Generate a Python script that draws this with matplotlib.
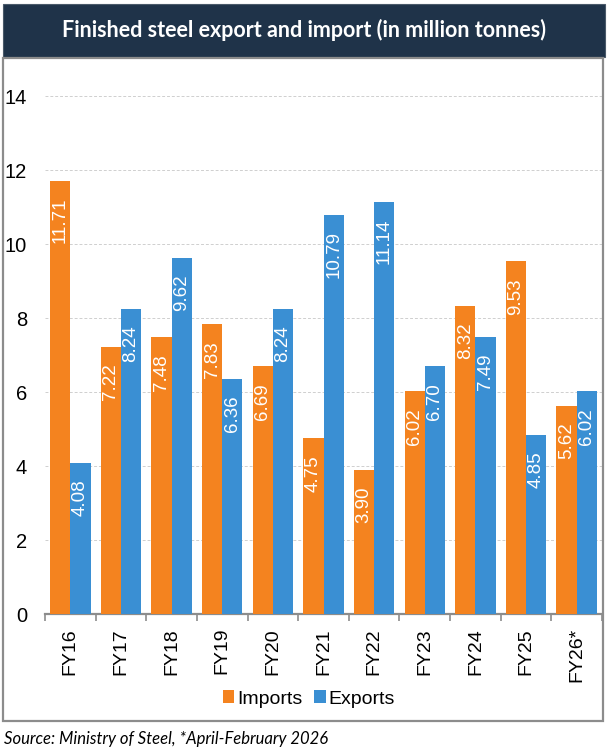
import numpy as np
import matplotlib
matplotlib.use('Agg')
import matplotlib.pyplot as plt
from matplotlib.patches import Rectangle

years = ['FY16', 'FY17', 'FY18', 'FY19', 'FY20', 'FY21', 'FY22', 'FY23', 'FY24', 'FY25', 'FY26*']
imports = [11.71, 7.22, 7.48, 7.83, 6.69, 4.75, 3.90, 6.02, 8.32, 9.53, 5.62]
exports = [4.08, 8.24, 9.62, 6.36, 8.24, 10.79, 11.14, 6.70, 7.49, 4.85, 6.02]

title = 'Finished steel export and import (in million tonnes)'
source = 'Source: Ministry of Steel, *April-February 2026'

orange = '#F4831F'
blue = '#3A8FD3'
navy = '#1F3349'

plt.rcParams['font.family'] = ['Liberation Sans', 'DejaVu Sans']

W, H = 608, 755
fig = plt.figure(figsize=(W / 100, H / 100), dpi=100)
fig.set_facecolor('white')

# title banner and chart frame
fig.patches.append(Rectangle((3 / W, 1 - 57 / H), 602 / W, 53 / H, transform=fig.transFigure,
                             facecolor=navy, edgecolor='#4a5a6a', lw=0.8, zorder=0))
fig.patches.append(Rectangle((3 / W, 1 - 721 / H), 600 / W, 663 / H, transform=fig.transFigure,
                             facecolor='none', edgecolor='#8c8c8c', lw=1.6, zorder=0))
fig.text(304 / W, 1 - 30 / H, title, color='white', fontsize=15.5, fontweight='bold',
         family=['Lato', 'DejaVu Sans'], ha='center', va='center')
fig.text(4 / W, 1 - 739 / H, source, fontsize=12, style='italic',
         family=['Lato', 'DejaVu Sans'], ha='left', va='center')

ax = fig.add_axes([45 / W, 1 - 614 / H, 557 / W, 555 / H])
x = np.arange(len(years))
width = 0.4
r1 = ax.bar(x - width / 2, imports, width, color=orange, label='Imports', zorder=3)
r2 = ax.bar(x + width / 2, exports, width, color=blue, label='Exports', zorder=3)

def autolabel(rects, vals):
    for rect, v in zip(rects, vals):
        ax.annotate('{:.2f}'.format(v),
                    xy=(rect.get_x() + rect.get_width() / 2, rect.get_height()),
                    xytext=(0, -12), textcoords='offset points',
                    ha='center', va='top', rotation=90, color='white', fontsize=13.5, zorder=4)

autolabel(r1, imports)
autolabel(r2, exports)

ax.set_xlim(-0.5, len(years) - 0.5)
ax.set_ylim(0, 15)
ax.set_yticks(np.arange(0, 15, 2))
ax.yaxis.grid(True, linestyle=(0, (3, 2)), color='#cfcfcf', lw=0.7, zorder=0)
ax.tick_params(axis='y', length=0, pad=13, labelsize=14.5)

ax.set_xticks(np.arange(-0.5, len(years), 1), minor=False)
ax.set_xticklabels([])
ax.set_xticks(x, minor=True)
ax.set_xticklabels(years, minor=True, rotation=90, fontsize=14)
ax.tick_params(axis='x', which='major', length=5, color='#8c8c8c', width=1.2)
ax.tick_params(axis='x', which='minor', length=0, pad=10)

for s in ['top', 'right', 'left']:
    ax.spines[s].set_visible(False)
ax.spines['bottom'].set_color('#8c8c8c')
ax.spines['bottom'].set_linewidth(1.6)

fig.legend(loc='center', bbox_to_anchor=(309 / W, 1 - 699 / H), ncol=2, frameon=False,
           fontsize=14, handlelength=0.6, handleheight=0.6, handletextpad=0.15, columnspacing=0.6)

fig.savefig('out.png', dpi=100)
